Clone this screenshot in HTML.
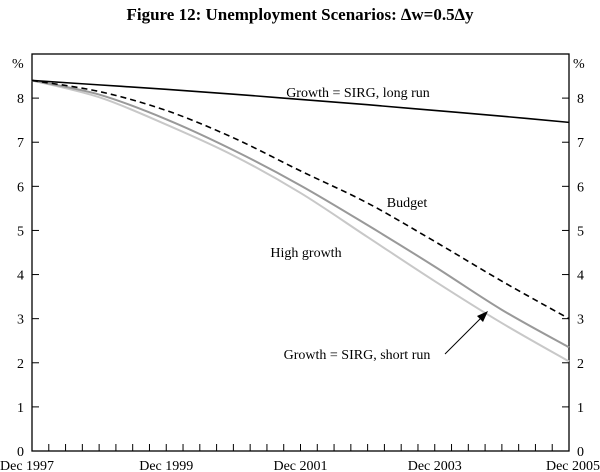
<!DOCTYPE html>
<html><head><meta charset="utf-8"><style>
body{margin:0;background:#fff;}
svg{display:block;font-family:"Liberation Serif",serif;}
</style></head><body>
<svg id="chart" width="600" height="472" viewBox="0 0 600 472">
<text x="300" y="20" text-anchor="middle" font-size="17" font-weight="bold">Figure 12: Unemployment Scenarios: ∆w=0.5∆y</text>
<g id="axes"></g>
<g id="series"></g>
<text x="358" y="97" text-anchor="middle" font-size="14">Growth = SIRG, long run</text>
<text x="407" y="207" text-anchor="middle" font-size="14">Budget</text>
<text x="306" y="257" text-anchor="middle" font-size="14">High growth</text>
<text x="357" y="359" text-anchor="middle" font-size="14">Growth = SIRG, short run</text>
<line x1="445" y1="354" x2="482" y2="317" stroke="#000" stroke-width="1"/>
<polygon points="488,311 477,316 483,322" fill="#000"/>
</svg>
<script>
const years = [0,1,2,3,4,5,6,7,8];
const xLabels = ["Dec 1997","Dec 1999","Dec 2001","Dec 2003","Dec 2005"];
const yTicks = [0,1,2,3,4,5,6,7,8];
const longRun = [8.4,8.3,8.2,8.09,7.97,7.85,7.72,7.59,7.45];
const budget = [8.4,8.15,7.72,7.1,6.35,5.62,4.75,3.85,3.0];
const shortRun = [8.4,8.08,7.52,6.82,6.02,5.12,4.18,3.2,2.35];
const highGrowth = [8.4,8.02,7.4,6.7,5.85,4.85,3.85,2.9,2.03];

const L=32,R=569,T=54,B=451;
const xs=t=>L+(R-L)*t/8;
const ys=v=>B-(B-T)*v/9;
const NS="http://www.w3.org/2000/svg";
const axes=document.getElementById('axes');
function mk(tag,attrs,parent){const e=document.createElementNS(NS,tag);for(const k in attrs)e.setAttribute(k,attrs[k]);parent.appendChild(e);return e;}
const frame=mk('rect',{x:L,y:T,width:R-L,height:B-T,fill:'none',stroke:'#000','stroke-width':1.3},axes);


yTicks.forEach(v=>{
  const y=ys(v);
  const t1=mk('line',{x1:L,x2:L+7,y1:y,y2:y,stroke:'#000'},axes);
  
  
  const t2=mk('line',{x1:R-7,x2:R,y1:y,y2:y,stroke:'#000'},axes);
  
  
  const a=mk('text',{x:L-8,y:y+5,'text-anchor':'end','font-size':14},axes);a.textContent=v;
  
  
  const b=mk('text',{x:R+8,y:y+5,'text-anchor':'start','font-size':14},axes);b.textContent=v;
  
  
});
['%','%'].forEach((s,i)=>{const p=mk('text',{x:i?R+4:L-20,y:T+14,'font-size':14},axes);p.textContent=s;
  
  });
for(let q=1;q<32;q++){const x=xs(q/4);const tk=mk('line',{x1:x,x2:x,y1:B,y2:B-7,stroke:'#000'},axes);
  
  }
xLabels.forEach((s,i)=>{let x=xs(i*2);let anchor='middle';if(i==0){x=0;anchor='start';}if(i==xLabels.length-1){x=600;anchor='end';}
  const t=mk('text',{x:x,y:470,'text-anchor':anchor,'font-size':14},axes);t.textContent=s;
  
  });
function pathD(vals){const p=vals.map((v,i)=>[xs(years[i]),ys(v)]);let d=`M${p[0][0]},${p[0][1]}`;
  for(let i=0;i<p.length-1;i++){const p0=p[i-1]||p[i],p1=p[i],p2=p[i+1],p3=p[i+2]||p2;
    d+=` C${p1[0]+(p2[0]-p0[0])/6},${p1[1]+(p2[1]-p0[1])/6} ${p2[0]-(p3[0]-p1[0])/6},${p2[1]-(p3[1]-p1[1])/6} ${p2[0]},${p2[1]}`;}
  return d;}
const sg=document.getElementById('series');
const s1=mk('path',{d:pathD(highGrowth),fill:'none',stroke:'#c8c8c8','stroke-width':2},sg);


const s2=mk('path',{d:pathD(shortRun),fill:'none',stroke:'#999','stroke-width':2},sg);


const s3=mk('path',{d:pathD(budget),fill:'none',stroke:'#000','stroke-width':1.6,'stroke-dasharray':'6,4'},sg);


const s4=mk('path',{d:pathD(longRun),fill:'none',stroke:'#000','stroke-width':1.6},sg);


</script>
</body></html>
